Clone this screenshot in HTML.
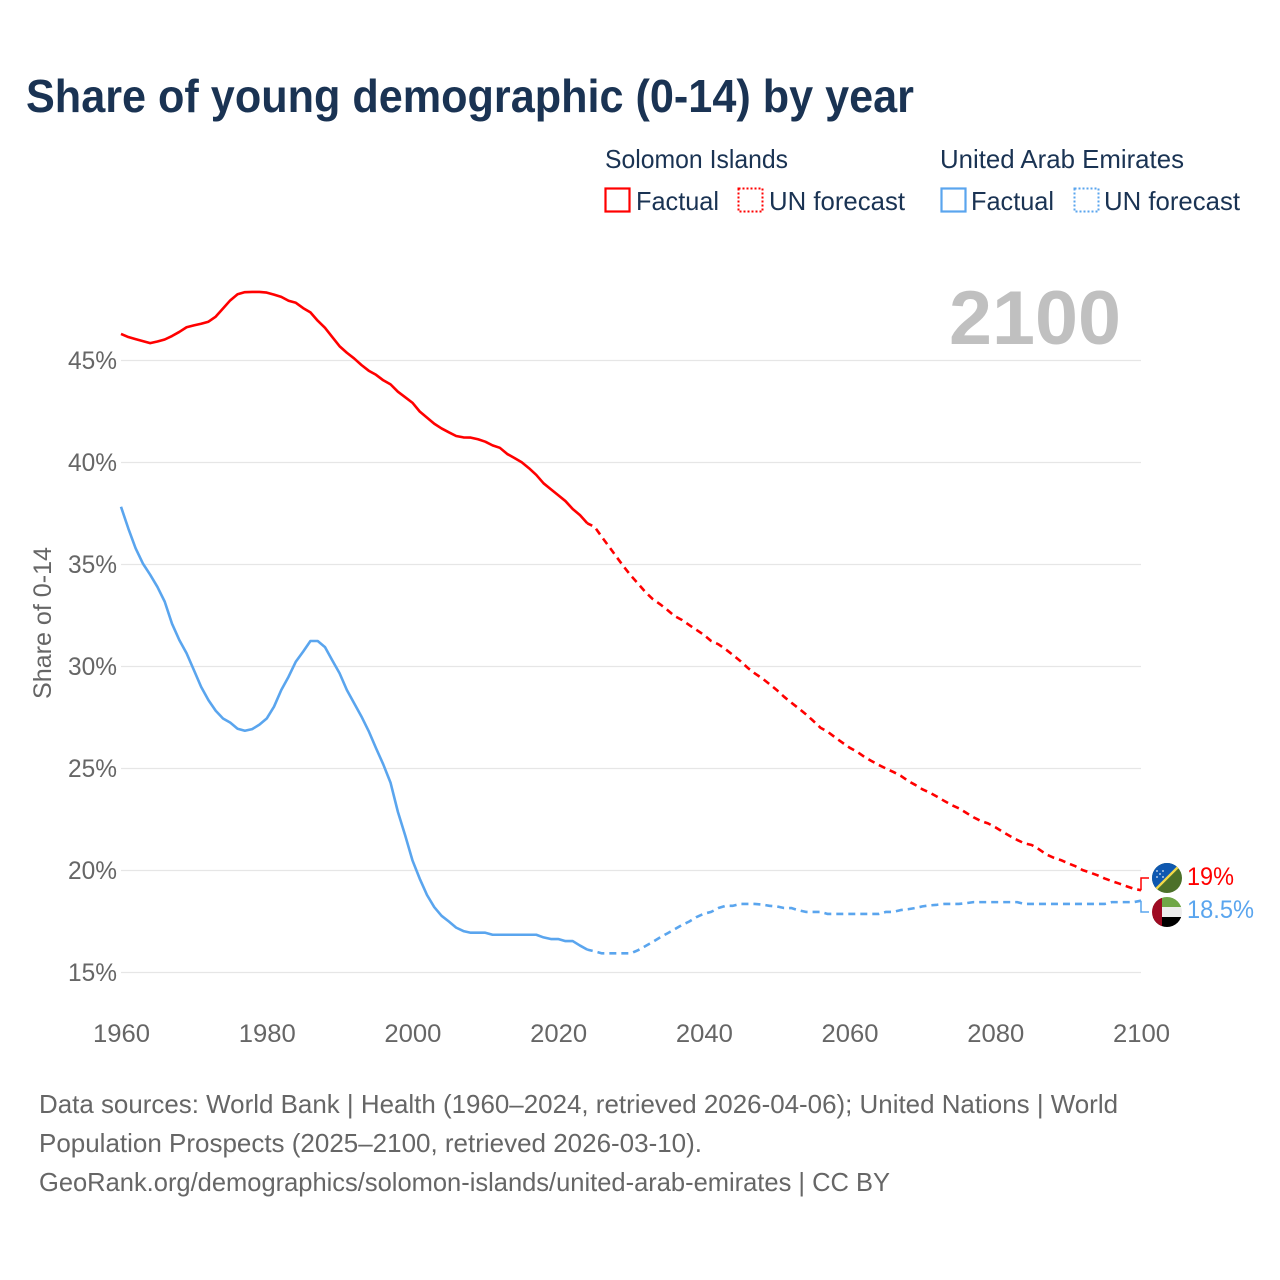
<!DOCTYPE html>
<html lang="en">
<head>
<meta charset="utf-8">
<title>Share of young demographic (0-14) by year</title>
<style>
html,body{margin:0;padding:0;background:#fff;width:1280px;height:1280px;overflow:hidden}
svg{display:block}
text{font-family:"Liberation Sans",sans-serif}
</style>
</head>
<body>
<svg id="chart" xmlns="http://www.w3.org/2000/svg" width="1280" height="1280" viewBox="0 0 1280 1280">
<defs>
<clipPath id="flag-clip-a"><circle cx="1167" cy="878" r="15"/></clipPath>
<clipPath id="flag-clip-b"><circle cx="1167" cy="912" r="15"/></clipPath>
</defs>
<rect width="1280" height="1280" fill="#fff"/>
<text x="26" y="112" font-size="46" font-weight="700" fill="#1a3353" textLength="888" lengthAdjust="spacingAndGlyphs">Share of young demographic (0-14) by year</text>

<g font-size="26" fill="#1a3353">
<text x="605" y="168" textLength="183" lengthAdjust="spacingAndGlyphs">Solomon Islands</text>
<text x="940" y="168" textLength="244" lengthAdjust="spacingAndGlyphs">United Arab Emirates</text>
<rect x="605.5" y="188.5" width="24" height="23" fill="none" stroke="#ff0000" stroke-width="2.2"/>
<text x="636" y="210" textLength="83" lengthAdjust="spacingAndGlyphs">Factual</text>
<rect x="738.5" y="188.5" width="24" height="23" fill="none" stroke="#ff0000" stroke-width="2" stroke-dasharray="2 2"/>
<text x="769" y="210" textLength="136" lengthAdjust="spacingAndGlyphs">UN forecast</text>
<rect x="941.5" y="188.5" width="24" height="23" fill="none" stroke="#5aa5ee" stroke-width="2.2"/>
<text x="971" y="210" textLength="83" lengthAdjust="spacingAndGlyphs">Factual</text>
<rect x="1074.5" y="188.5" width="24" height="23" fill="none" stroke="#5aa5ee" stroke-width="2" stroke-dasharray="2 2"/>
<text x="1104" y="210" textLength="136" lengthAdjust="spacingAndGlyphs">UN forecast</text>
</g>

<text x="949" y="344" font-size="76" font-weight="700" fill="#c0c0c0" textLength="172" lengthAdjust="spacingAndGlyphs">2100</text>

<g id="grid"></g>
<g id="y-axis"></g>
<g id="x-axis"></g>
<text transform="translate(51,623) rotate(-90)" text-anchor="middle" font-size="25" fill="#666666" textLength="152" lengthAdjust="spacingAndGlyphs">Share of 0-14</text>
<g id="series"></g>

<g clip-path="url(#flag-clip-a)">
<rect x="1150" y="861" width="34" height="34" fill="#4c7029"/>
<polygon points="1150,861 1184,861 1150,895" fill="#0f58b0"/>
<line x1="1184" y1="861" x2="1150" y2="895" stroke="#f2d94a" stroke-width="2.4"/>
<g fill="#dfe9f5"><circle cx="1157" cy="871" r="0.9"/><circle cx="1163" cy="871" r="0.9"/><circle cx="1160" cy="874" r="0.9"/><circle cx="1157" cy="877" r="0.9"/><circle cx="1163" cy="877" r="0.9"/></g>
</g>
<g clip-path="url(#flag-clip-b)">
<rect x="1150" y="895" width="34" height="12" fill="#6fa646"/>
<rect x="1150" y="907" width="34" height="10" fill="#eeeeee"/>
<rect x="1150" y="917" width="34" height="12" fill="#000000"/>
<rect x="1150" y="895" width="12" height="34" fill="#9e0b22"/>
</g>
<text id="end-label-a" x="1187" y="885" font-size="25" fill="#ff0000" textLength="47" lengthAdjust="spacingAndGlyphs">19%</text>
<text id="end-label-b" x="1187" y="918" font-size="25" fill="#5aa5ee" textLength="67" lengthAdjust="spacingAndGlyphs">18.5%</text>

<g font-size="26" fill="#666666">
<text x="39" y="1113" textLength="1079" lengthAdjust="spacingAndGlyphs">Data sources: World Bank | Health (1960–2024, retrieved 2026-04-06); United Nations | World</text>
<text x="39" y="1152" textLength="663" lengthAdjust="spacingAndGlyphs">Population Prospects (2025–2100, retrieved 2026-03-10).</text>
<text x="39" y="1191" textLength="851" lengthAdjust="spacingAndGlyphs">GeoRank.org/demographics/solomon-islands/united-arab-emirates | CC BY</text>
</g>
</svg>
<script>
const yTicks = [15, 20, 25, 30, 35, 40, 45];
const xTicks = [1960, 1980, 2000, 2020, 2040, 2060, 2080, 2100];
const factualStart = 1960;
const forecastStart = 2024;
const solomonFactual = [46.3,46.15,46.05,45.95,45.85,45.93,46.03,46.2,46.4,46.63,46.72,46.8,46.9,47.15,47.55,47.95,48.25,48.35,48.36,48.36,48.33,48.23,48.12,47.93,47.83,47.57,47.36,46.95,46.6,46.15,45.7,45.38,45.1,44.78,44.5,44.3,44.03,43.83,43.47,43.2,42.93,42.5,42.2,41.9,41.67,41.48,41.3,41.23,41.22,41.14,41.02,40.84,40.72,40.42,40.22,40.01,39.72,39.39,38.98,38.69,38.4,38.11,37.72,37.42,37.02];
const solomonForecast = [37.02,36.85,36.35,35.87,35.38,34.9,34.45,34.05,33.64,33.3,33.05,32.77,32.47,32.28,32.03,31.79,31.55,31.25,31.09,30.84,30.56,30.27,29.94,29.66,29.42,29.14,28.85,28.52,28.23,27.95,27.66,27.34,27.0,26.8,26.53,26.27,26.02,25.83,25.58,25.37,25.17,25.0,24.83,24.65,24.4,24.2,23.98,23.82,23.62,23.41,23.21,23.05,22.83,22.61,22.43,22.31,22.12,21.9,21.69,21.5,21.33,21.25,21.04,20.79,20.63,20.51,20.35,20.21,20.02,19.9,19.77,19.61,19.48,19.36,19.23,19.11,19.03];
const uaeFactual = [37.83,36.77,35.8,35.05,34.5,33.9,33.18,32.1,31.3,30.65,29.83,29.0,28.35,27.83,27.45,27.25,26.95,26.85,26.93,27.15,27.45,28.03,28.85,29.5,30.24,30.73,31.25,31.25,30.95,30.3,29.67,28.85,28.2,27.55,26.83,26.0,25.2,24.3,22.88,21.73,20.5,19.6,18.8,18.2,17.78,17.5,17.2,17.03,16.95,16.95,16.95,16.85,16.85,16.85,16.85,16.85,16.85,16.85,16.72,16.64,16.64,16.54,16.54,16.32,16.12];
const uaeForecast = [16.12,16.04,15.94,15.94,15.94,15.94,15.94,16.1,16.3,16.5,16.72,16.92,17.12,17.33,17.5,17.72,17.88,17.97,18.16,18.27,18.27,18.36,18.36,18.36,18.33,18.27,18.24,18.16,18.16,18.05,17.97,17.97,17.97,17.87,17.87,17.87,17.87,17.87,17.87,17.87,17.87,17.97,17.97,18.06,18.1,18.16,18.24,18.29,18.32,18.36,18.36,18.36,18.4,18.45,18.45,18.45,18.45,18.45,18.45,18.45,18.36,18.36,18.36,18.36,18.36,18.36,18.36,18.36,18.36,18.36,18.36,18.36,18.45,18.45,18.45,18.45,18.52];

const NS = 'http://www.w3.org/2000/svg';
const xScale = function (year) { return 121 + (year - 1960) * (1020 / 140); };
const yScale = function (value) { return 972.5 - (value - 15) * 20.4; };
const pathFor = function (values, startYear) {
  return values.map(function (v, i) {
    return (i ? 'L' : 'M') + xScale(startYear + i).toFixed(2) + ' ' + yScale(v).toFixed(2);
  }).join(' ');
};

const gridGroup = document.getElementById('grid');
const yGroup = document.getElementById('y-axis');
const xGroup = document.getElementById('x-axis');
const seriesGroup = document.getElementById('series');

yTicks.forEach(function (t) {
  const line = document.createElementNS(NS, 'line');
  
  
  line.setAttribute('x1', 121);
  line.setAttribute('x2', 1141);
  line.setAttribute('y1', yScale(t));
  line.setAttribute('y2', yScale(t));
  line.setAttribute('stroke', '#e6e6e6');
  line.setAttribute('stroke-width', '1.3');
  gridGroup.appendChild(line);
  const label = document.createElementNS(NS, 'text');
  
  
  label.setAttribute('x', 68);
  label.setAttribute('y', yScale(t) + 8.5);
  label.setAttribute('font-size', '25');
  label.setAttribute('fill', '#666666');
  label.setAttribute('textLength', '49');
  label.setAttribute('lengthAdjust', 'spacingAndGlyphs');
  label.textContent = t + '%';
  yGroup.appendChild(label);
});

xTicks.forEach(function (t) {
  const label = document.createElementNS(NS, 'text');
  
  
  label.setAttribute('x', xScale(t) - 28);
  label.setAttribute('y', 1042);
  label.setAttribute('font-size', '25');
  label.setAttribute('fill', '#666666');
  label.setAttribute('textLength', '57');
  label.setAttribute('lengthAdjust', 'spacingAndGlyphs');
  label.textContent = t;
  xGroup.appendChild(label);
});

const addLine = function (d, color, dashed, name) {
  const p = document.createElementNS(NS, 'path');
  
  
  p.setAttribute('d', d);
  p.setAttribute('fill', 'none');
  p.setAttribute('stroke', color);
  p.setAttribute('stroke-width', '2.6');
  p.setAttribute('stroke-linejoin', 'round');
  if (dashed) {
    p.setAttribute('stroke-dasharray', '7 5');
    p.setAttribute('stroke-dashoffset', '1.5');
  }
  seriesGroup.appendChild(p);
};

addLine(pathFor(solomonFactual, factualStart), '#ff0000', false, 'line-solomon-factual');
addLine(pathFor(solomonForecast, forecastStart), '#ff0000', true, 'line-solomon-forecast');
addLine(pathFor(uaeFactual, factualStart), '#5aa5ee', false, 'line-uae-factual');
addLine(pathFor(uaeForecast, forecastStart), '#5aa5ee', true, 'line-uae-forecast');

const lastA = solomonForecast[solomonForecast.length - 1];
const lastB = uaeForecast[uaeForecast.length - 1];
const connector = function (y0, y1, color, name) {
  const p = document.createElementNS(NS, 'path');
  
  
  p.setAttribute('d', 'M1141 ' + y0.toFixed(1) + ' L1141 ' + y1 + ' L1149 ' + y1);
  p.setAttribute('fill', 'none');
  p.setAttribute('stroke', color);
  p.setAttribute('stroke-width', '1.5');
  seriesGroup.appendChild(p);
};
connector(yScale(lastA), 878, '#ff0000', 'connector-solomon-islands');
connector(yScale(lastB), 912, '#5aa5ee', 'connector-united-arab-emirates');
</script>
</body>
</html>
